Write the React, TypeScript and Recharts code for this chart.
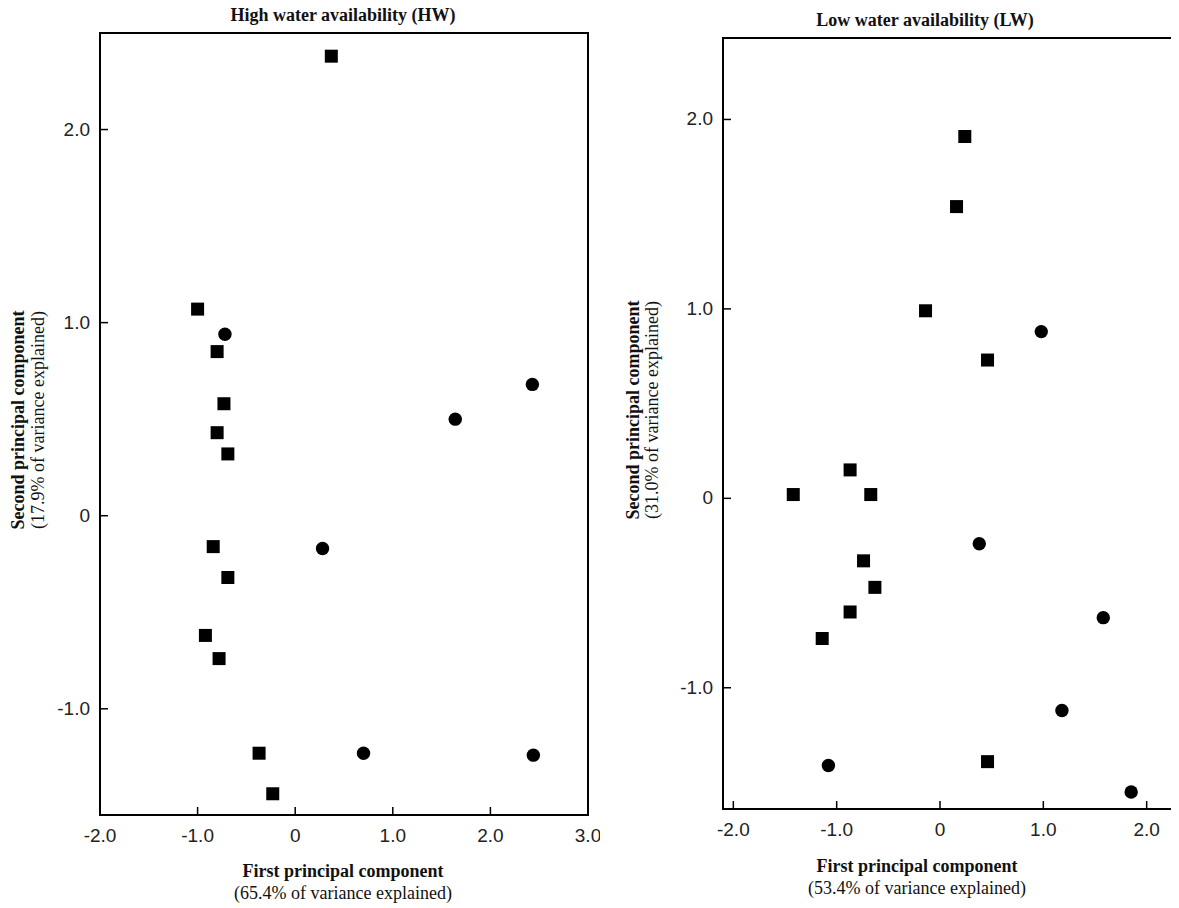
import React from 'react';
import { ScatterChart, Scatter, XAxis, YAxis, ReferenceArea } from 'recharts';

// High water availability (HW)
const hwSquares = [
  { x: 0.37, y: 2.38 },
  { x: -1.0, y: 1.07 },
  { x: -0.8, y: 0.85 },
  { x: -0.73, y: 0.58 },
  { x: -0.8, y: 0.43 },
  { x: -0.69, y: 0.32 },
  { x: -0.84, y: -0.16 },
  { x: -0.69, y: -0.32 },
  { x: -0.92, y: -0.62 },
  { x: -0.78, y: -0.74 },
  { x: -0.37, y: -1.23 },
  { x: -0.23, y: -1.44 },
];
const hwCircles = [
  { x: -0.72, y: 0.94 },
  { x: 2.43, y: 0.68 },
  { x: 1.64, y: 0.5 },
  { x: 0.28, y: -0.17 },
  { x: 0.7, y: -1.23 },
  { x: 2.44, y: -1.24 },
];

// Low water availability (LW)
const lwSquares = [
  { x: 0.24, y: 1.91 },
  { x: 0.16, y: 1.54 },
  { x: -0.14, y: 0.99 },
  { x: 0.46, y: 0.73 },
  { x: -0.87, y: 0.15 },
  { x: -1.42, y: 0.02 },
  { x: -0.67, y: 0.02 },
  { x: -0.74, y: -0.33 },
  { x: -0.63, y: -0.47 },
  { x: -0.87, y: -0.6 },
  { x: -1.14, y: -0.74 },
  { x: 0.46, y: -1.39 },
];
const lwCircles = [
  { x: 0.98, y: 0.88 },
  { x: 0.38, y: -0.24 },
  { x: 1.58, y: -0.63 },
  { x: 1.18, y: -1.12 },
  { x: -1.08, y: -1.41 },
  { x: 1.85, y: -1.55 },
];

const hwXTicks = [-2, -1, 0, 1, 2, 3];
const hwYTicks = [-1, 0, 1, 2];
const lwXTicks = [-2, -1, 0, 1, 2];
const lwYTicks = [-1, 0, 1, 2];

const fmt = (v: number) => (v === 0 ? '0' : v.toFixed(1));

const tickFont = { fontSize: 19, fill: '#222', fontFamily: 'Liberation Sans, Arial, sans-serif' };

// ticks point inward, labels stay outside
const XTick = (props: any) => {
  const { x, y, payload } = props;
  return (
    <g>
      <line x1={x} x2={x} y1={y} y2={y - 8} stroke="#000" strokeWidth={1.5} />
      <text x={x} y={y + 27} textAnchor="middle" {...tickFont}>{fmt(payload.value)}</text>
    </g>
  );
};
const YTick = (props: any) => {
  const { x, y, payload } = props;
  return (
    <g>
      <line x1={x} x2={x + 8} y1={y} y2={y} stroke="#000" strokeWidth={1.5} />
      <text x={x - 10} y={y + 6} textAnchor="end" {...tickFont}>{fmt(payload.value)}</text>
    </g>
  );
};

const Square = (props: any) => {
  const { cx, cy } = props;
  return <rect x={cx - 6.5} y={cy - 6.5} width={13} height={13} fill="#000" />;
};
const Dot = (props: any) => {
  const { cx, cy } = props;
  return <circle cx={cx} cy={cy} r={6.7} fill="#000" />;
};

const serif = 'Liberation Serif, Times New Roman, serif';

const Text = ({ x, y, bold, size, rotate, children }: any) => (
  <div
    style={{
      position: 'absolute',
      left: x,
      top: y,
      transform: `translate(-50%, -50%)${rotate ? ' rotate(-90deg)' : ''}`,
      whiteSpace: 'nowrap',
      fontFamily: serif,
      fontWeight: bold ? 700 : 400,
      fontSize: size,
      color: '#111',
      lineHeight: 1,
    }}
  >
    {children}
  </div>
);

const axisLine = { stroke: '#000', strokeWidth: 2 };

export default function App() {
  return (
    <div style={{ position: 'relative', margin: '-8px 0 0 -8px', width: 1179, height: 908, overflow: 'hidden', background: '#fff' }}>
      <div style={{ position: 'absolute', left: 0, top: 0 }}>
        <ScatterChart width={600} height={908} margin={{ top: 33, right: 12, bottom: 63, left: 40 }}>
          <XAxis
            type="number"
            dataKey="x"
            domain={[-2, 3]}
            ticks={hwXTicks}
            allowDataOverflow
            height={30}
            tick={<XTick />}
            tickLine={false}
            tickSize={0}
            tickMargin={0}
            axisLine={axisLine}
          />
          <YAxis
            type="number"
            dataKey="y"
            domain={[-1.55, 2.5]}
            ticks={hwYTicks}
            allowDataOverflow
            width={60}
            tick={<YTick />}
            tickLine={false}
            tickSize={0}
            tickMargin={0}
            axisLine={axisLine}
          />
          <ReferenceArea x1={-2} x2={3} y1={-1.55} y2={2.5} fill="none" stroke="#000" strokeWidth={2} />
          <Scatter data={hwSquares} shape={Square} isAnimationActive={false} />
          <Scatter data={hwCircles} shape={Dot} isAnimationActive={false} />
        </ScatterChart>
      </div>
      <div style={{ position: 'absolute', left: 640, top: 0 }}>
        <ScatterChart width={548} height={908} margin={{ top: 38, right: 0, bottom: 69, left: 23 }}>
          <XAxis
            type="number"
            dataKey="x"
            domain={[-2.1, 2.4]}
            ticks={lwXTicks}
            allowDataOverflow
            height={30}
            tick={<XTick />}
            tickLine={false}
            tickSize={0}
            tickMargin={0}
            axisLine={axisLine}
          />
          <YAxis
            type="number"
            dataKey="y"
            domain={[-1.64, 2.43]}
            ticks={lwYTicks}
            allowDataOverflow
            width={60}
            tick={<YTick />}
            tickLine={false}
            tickSize={0}
            tickMargin={0}
            axisLine={axisLine}
          />
          <ReferenceArea x1={-2.1} x2={2.4} y1={-1.64} y2={2.43} fill="none" stroke="#000" strokeWidth={2} />
          <Scatter data={lwSquares} shape={Square} isAnimationActive={false} />
          <Scatter data={lwCircles} shape={Dot} isAnimationActive={false} />
        </ScatterChart>
      </div>

      <Text x={343} y={15} bold size={18}>High water availability (HW)</Text>
      <Text x={925} y={20} bold size={18}>Low water availability (LW)</Text>

      <Text x={343} y={871} bold size={18}>First principal component</Text>
      <Text x={343} y={893} size={18}>(65.4% of variance explained)</Text>
      <Text x={917} y={866} bold size={18}>First principal component</Text>
      <Text x={917} y={888} size={18}>(53.4% of variance explained)</Text>

      <Text x={18} y={420} bold size={18} rotate>Second principal component</Text>
      <Text x={38} y={420} size={18} rotate>(17.9% of variance explained)</Text>
      <Text x={633} y={410} bold size={18} rotate>Second principal component</Text>
      <Text x={652} y={410} size={18} rotate>(31.0% of variance explained)</Text>
    </div>
  );
}
